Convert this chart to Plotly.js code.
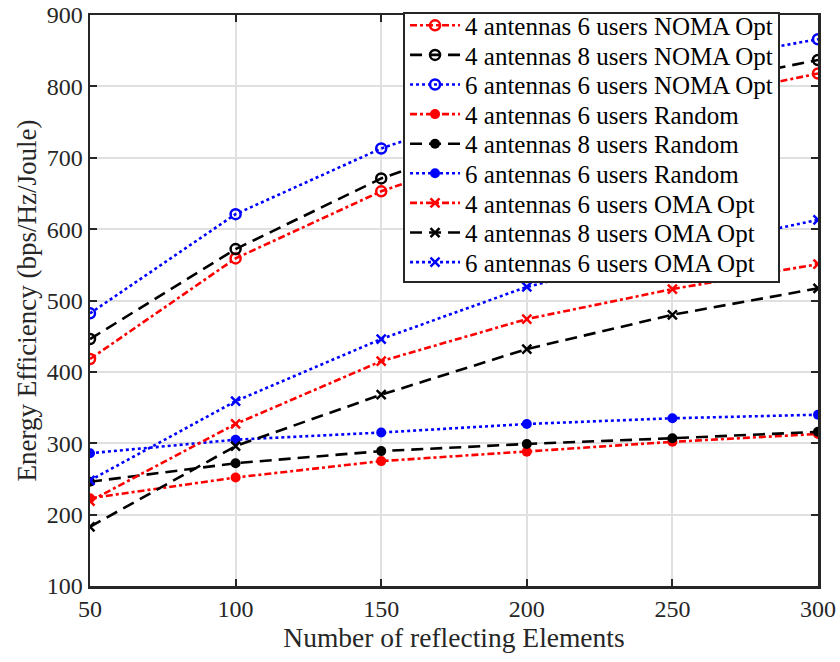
<!DOCTYPE html>
<html>
<head>
<meta charset="utf-8">
<script src="https://cdn.plot.ly/plotly-3.0.1.min.js"></script>
<style>
  html, body { margin: 0; padding: 0; background: #fff; }
  #chart { width: 840px; height: 662px; }
</style>
</head>
<body>
<div id="chart"></div>
<script>
// Number of reflecting elements
const elements = [50, 100, 150, 200, 250, 300];

// Energy efficiency (bps/Hz/Joule)
const noma4a6u = [418, 559, 653, 722, 776, 818];
const noma4a8u = [446, 572, 671, 742, 796, 837];
const noma6a6u = [482, 621, 713, 782, 830, 866];

const rand4a6u = [223, 252, 275, 288, 302, 313];
const rand4a8u = [246, 272, 289, 299, 307, 316];
const rand6a6u = [286, 305, 315, 327, 335, 340];

const oma4a6u = [219, 327, 415, 474, 516, 551];
const oma4a8u = [183, 296, 368, 432, 480, 517];
const oma6a6u = [248, 359, 446, 519, 570, 613];

const seriesNames = [
  '4 antennas 6 users NOMA Opt',
  '4 antennas 8 users NOMA Opt',
  '6 antennas 6 users NOMA Opt',
  '4 antennas 6 users Random',
  '4 antennas 8 users Random',
  '6 antennas 6 users Random',
  '4 antennas 6 users OMA Opt',
  '4 antennas 8 users OMA Opt',
  '6 antennas 6 users OMA Opt'
];
const xTicks = [50, 100, 150, 200, 250, 300];
const yTicks = [100, 200, 300, 400, 500, 600, 700, 800, 900];

const RED = '#ff0000', BLACK = '#000000', BLUE = '#0000ff';
const DASHDOT = '7px,3px,3px,3px';
const LONGDASH = '12px,7px';
const DOTTED = '3px,3px';

function trace(y, name, color, dash, symbol, size) {
  const open = symbol !== 'circle';
  return {
    x: elements, y: y, name: name, type: 'scatter', mode: 'lines+markers',
    line: { color: color, width: 2.6, dash: dash },
    marker: {
      symbol: symbol, size: size, color: color,
      line: { color: color, width: open ? 2.5 : 0 }
    }
  };
}

const data = [
  trace(noma4a6u, seriesNames[0], RED, DASHDOT, 'circle-open', 10),
  trace(noma4a8u, seriesNames[1], BLACK, LONGDASH, 'circle-open', 10),
  trace(noma6a6u, seriesNames[2], BLUE, DOTTED, 'circle-open', 10),
  trace(rand4a6u, seriesNames[3], RED, DASHDOT, 'circle', 10),
  trace(rand4a8u, seriesNames[4], BLACK, LONGDASH, 'circle', 10),
  trace(rand6a6u, seriesNames[5], BLUE, DOTTED, 'circle', 10),
  trace(oma4a6u, seriesNames[6], RED, DASHDOT, 'x-thin-open', 9),
  trace(oma4a8u, seriesNames[7], BLACK, LONGDASH, 'x-thin-open', 9),
  trace(oma6a6u, seriesNames[8], BLUE, DOTTED, 'x-thin-open', 9)
];

const AXIS = '#262626';
const FONT = 'Liberation Serif';

const layout = {
  width: 840, height: 662,
  margin: { l: 90, r: 22, t: 13, b: 76, pad: 0 },
  paper_bgcolor: '#ffffff', plot_bgcolor: '#ffffff',
  font: { family: FONT, size: 24, color: AXIS },
  showlegend: true,
  legend: {
    x: 0.43, y: 1.006, xanchor: 'left', yanchor: 'top',
    bgcolor: '#ffffff', bordercolor: AXIS, borderwidth: 2,
    font: { family: FONT, size: 25, color: '#000000' },
    itemwidth: 50, tracegroupgap: 0
  },
  xaxis: {
    range: [50, 300], tickvals: xTicks, ticktext: xTicks.map(String),
    showgrid: true, gridcolor: '#e0e0e0', gridwidth: 2,
    zeroline: false, showline: true, linecolor: AXIS, linewidth: 2.5,
    mirror: 'allticks', ticks: 'inside', ticklen: 7, tickwidth: 2, tickcolor: AXIS,
    tickfont: { family: FONT, size: 24, color: AXIS },
    title: { text: 'Number of reflecting Elements', font: { family: FONT, size: 27.5, color: AXIS }, standoff: 6 }
  },
  yaxis: {
    range: [100, 900], tickvals: yTicks, ticktext: yTicks.map(String),
    showgrid: true, gridcolor: '#e0e0e0', gridwidth: 2,
    zeroline: false, showline: true, linecolor: AXIS, linewidth: 2.5,
    mirror: 'allticks', ticks: 'inside', ticklen: 7, tickwidth: 2, tickcolor: AXIS,
    tickfont: { family: FONT, size: 24, color: AXIS },
    title: { text: 'Energy Efficiency (bps/Hz/Joule)', font: { family: FONT, size: 27, color: AXIS }, standoff: 3 }
  }
};

const gd = document.getElementById('chart');
Plotly.newPlot(gd, data, layout, { displayModeBar: false, staticPlot: true }).then(function () {
  // Tighten the legend rows to a 30px pitch and shrink its frame to fit.
  const leg = gd.querySelector('.legend');
  if (!leg) return;
  const rowPitch = 29.6;
  const items = leg.querySelectorAll('.traces');
  let y0 = null;
  items.forEach(function (g, i) {
    const m = /translate\(\s*([-\d.]+)[ ,]+([-\d.]+)\s*\)/.exec(g.getAttribute('transform') || '');
    if (!m) return;
    if (y0 === null) y0 = parseFloat(m[2]) - 11;
    g.setAttribute('transform', 'translate(' + m[1] + ',' + (y0 + i * rowPitch) + ')');
  });
  const bg = leg.querySelector('rect.bg');
  if (bg) bg.setAttribute('height', 269);
});
</script>
</body>
</html>
